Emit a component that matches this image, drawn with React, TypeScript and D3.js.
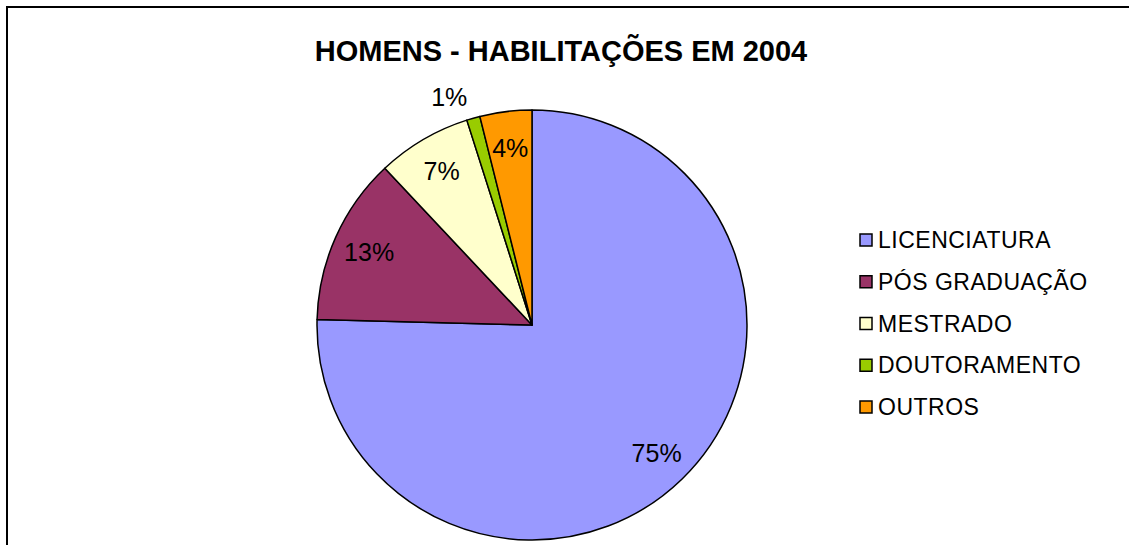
import React from "react";
import * as d3 from "d3";

const categories = ["LICENCIATURA", "PÓS GRADUAÇÃO", "MESTRADO", "DOUTORAMENTO", "OUTROS"];
const values = [75.4, 12.6, 7.1, 1.0, 3.9];
const colors = ["#9999FF", "#993366", "#FFFFCC", "#99CC00", "#FF9900"];
const title = "HOMENS - HABILITAÇÕES EM 2004";

const W = 1129;
const H = 545;
const FONT = "'Liberation Sans', Arial, sans-serif";

export default function App() {
  const cx = 532;
  const cy = 325;
  const r = 215;
  const total = d3.sum(values);
  const pie = d3.pie<number>().sort(null).value((d) => d)(values);
  const arc = d3.arc<d3.PieArcDatum<number>>().innerRadius(0).outerRadius(r);
  const labelArc = d3.arc<d3.PieArcDatum<number>>().innerRadius(r * 0.83).outerRadius(r * 0.83);
  const outArc = d3.arc<d3.PieArcDatum<number>>().innerRadius(r + 22).outerRadius(r + 22);

  const legendY = d3.scalePoint<string>().domain(categories).range([240, 407]);

  return (
    <svg
      width={W}
      height={H}
      style={{ position: "absolute", left: 0, top: 0, display: "block", background: "#fff" }}
      fontFamily={FONT}
    >
      <rect x={7} y={7} width={W + 20} height={H + 20} fill="#fff" stroke="#000" strokeWidth={2} />
      <text x={561} y={61} textAnchor="middle" fontWeight="bold" fontSize={29} fill="#000">
        {title}
      </text>
      <g transform={`translate(${cx},${cy})`}>
        {pie.map((p, i) => (
          <path key={i} d={arc(p) || ""} fill={colors[i]} stroke="#000" strokeWidth={1.5} strokeLinejoin="round" />
        ))}
        {pie.map((p, i) => {
          const pct = Math.round((values[i] / total) * 100);
          const small = values[i] / total < 0.02;
          const [x, y] = small ? outArc.centroid(p) : labelArc.centroid(p);
          return (
            <text
              key={"l" + i}
              x={x}
              y={y}
              textAnchor={small ? "end" : "middle"}
              dominantBaseline="central"
              fontSize={25}
              fill="#000"
            >
              {pct}%
            </text>
          );
        })}
      </g>
      <g>
        {categories.map((c, i) => (
          <g key={c} transform={`translate(860,${legendY(c)})`}>
            <rect x={0} y={-6} width={12} height={12} fill={colors[i]} stroke="#000" strokeWidth={1.5} />
            <text x={18} y={0} dominantBaseline="central" fontSize={23} letterSpacing={0.5} fill="#000">
              {c}
            </text>
          </g>
        ))}
      </g>
    </svg>
  );
}
